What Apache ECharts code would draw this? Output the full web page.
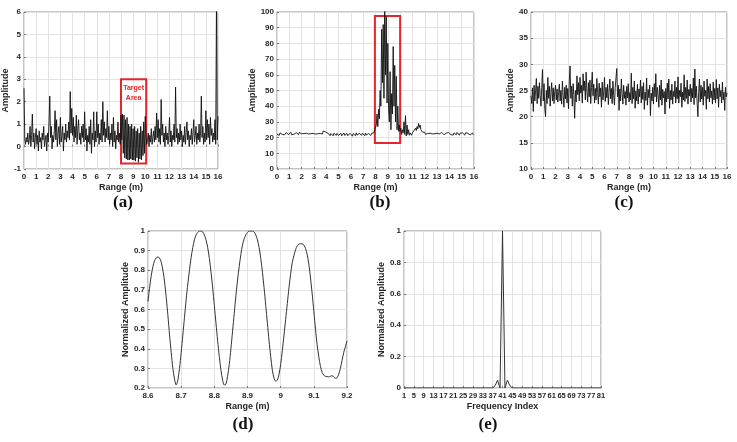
<!DOCTYPE html>
<html><head><meta charset="utf-8">
<script src="https://cdn.jsdelivr.net/npm/echarts@6/dist/echarts.min.js"></script>
<style>html,body{margin:0;padding:0;background:#fff}#c{width:737px;height:442px}</style>
</head><body><div id="c"></div>
<script>
// sampling step of panels (a)-(c), metres
const rangeStep = 0.0625;
// (a) amplitude, 16 samples per metre, 0..16 m
const ampA = [
 2.6,0.3,0.1,0.4,0.2,0.6,0.1,0.3,0.9,0.0,0.5,1.45,0.2,0.6,-0.1,0.4,
 0.8,0.1,0.5,-0.2,0.7,0.2,0.4,-0.1,0.6,0.3,0.9,0.0,0.3,0.5,-0.2,0.6,
 0.2,1.1,2.25,0.4,0.9,-0.1,0.5,0.2,0.7,1.6,0.3,1.2,0.0,0.6,0.9,0.1,
 1.3,0.2,0.5,0.9,-0.2,0.6,0.3,1.0,0.2,0.7,0.4,1.1,0.3,2.45,0.6,1.7,
 0.5,1.3,0.2,0.9,0.4,1.4,0.1,0.8,1.2,0.3,0.6,0.1,0.9,0.4,1.0,0.2,
 1.55,0.3,0.8,-0.2,0.5,0.2,0.9,0.1,1.2,-0.3,0.6,0.3,1.55,0.0,0.7,0.2,
 1.55,0.4,1.0,0.1,0.6,0.3,1.2,0.2,2.0,0.5,1.1,0.2,0.8,0.4,1.6,0.3,
 0.9,0.1,0.6,0.3,1.0,0.0,1.3,0.2,0.7,-0.1,0.5,0.3,1.1,0.2,0.6,0.1,
 1.4,0.3,1.45,-0.3,1.4,-0.5,1.2,-0.55,1.3,-0.6,1.0,-0.6,0.9,-0.55,1.0,-0.6,
 0.8,-0.6,0.9,-0.65,0.7,-0.5,0.8,-0.7,0.6,-0.55,0.9,-0.6,0.7,-0.4,1.1,-0.3,
 1.35,0.4,0.1,0.3,0.6,0.0,0.5,0.2,0.8,0.1,0.4,0.7,0.2,0.9,0.3,1.5,
 0.4,1.2,0.2,0.8,0.1,2.1,0.5,1.0,0.2,0.6,0.0,0.9,0.3,0.6,0.1,0.5,
 1.3,0.2,0.7,0.0,0.5,0.3,1.0,0.2,2.65,0.4,0.8,0.1,0.6,0.2,1.0,0.3,
 0.7,0.0,0.5,0.2,0.9,0.1,0.6,1.1,0.3,0.7,0.0,0.5,0.3,0.8,0.1,0.6,
 1.2,0.2,0.5,0.9,0.1,0.6,0.3,1.0,0.2,0.6,2.25,0.4,0.9,0.1,0.6,0.2,
 1.6,0.3,1.2,0.4,1.0,0.1,1.3,0.5,0.8,0.2,0.6,0.3,1.2,0.1,6.5,0.3,
 1.35
];
// (b) amplitude
const ampB = [
 22,23,22.5,21.5,23,22,23.5,22,22.5,23,21.8,22.7,23.2,22,22.8,21.9,
 23,22.2,23.4,21.8,22.6,23,22.1,22.9,21.7,23.1,22.4,22.8,21.9,23.3,22.2,22.7,
 22.4,23.1,21.8,22.6,23.2,22,22.8,21.6,23,22.3,22.9,21.8,22.5,23.1,22,22.7,
 21.9,22.8,22.2,23.4,21.7,22.5,23,22.1,22.6,21.8,23.2,22.3,24.2,23.3,25.2,23.6,
 24,22.5,22.9,21.7,22.3,21.2,22.6,21.9,22.4,21.1,22.8,21.6,22.2,21.4,22.7,21.8,
 21.3,22.5,21.7,22.8,21.1,22.2,21.6,22.9,21.4,22.1,21.8,22.6,21.2,22.4,21.9,22.7,
 21.5,22.3,20.9,22.6,21.8,22.1,21.2,23,21.6,22.4,21.1,22.7,21.9,22.2,21.4,22.8,
 21.7,22.5,21.2,22.9,21.6,22.3,21.1,22.6,21.8,22.2,21.4,22.7,21.9,22.4,23.1,22.5,
 24,28,35,27,38,32,50,40,89,55,92,45,104,60,97,42,
 80,38,30,62,25,48,35,78,40,66,30,59,25,40,24,28,
 24,26,22,25,23,30,22,34,21,28,22,25,21.5,23,22.2,21.5,
 23,22,24.5,23.5,26,24.5,27,25.5,29,26.5,28,25,26,23.5,24.2,22.8,
 23.4,22.1,22.9,21.8,22.6,23.2,22,22.8,21.7,23,22.3,22.9,21.9,22.5,23.1,22.2,
 22.8,21.6,23.1,22.3,22.7,21.9,23.3,22.1,22.6,21.8,23,22.4,22.9,21.7,22.5,23.2,
 22,22.8,21.9,23.1,22.4,21.6,23,22.2,22.7,21.8,23.3,22.1,22.6,21.5,22.9,22.3,
 21.8,23,22.2,22.7,21.6,23.1,22.4,21.9,22.8,22,23.2,21.7,22.6,22.1,22.9,21.8,
 22.4
];
// (c) amplitude
const ampC = [
 24,22.5,25.5,21,26,23,25,27.3,22.5,25.8,23.5,26.5,24,22,25.5,29,
 23,26.3,21.5,20,25,22.5,27.5,23.5,25.8,22,24.5,26.5,23,25.5,22.5,24.8,
 26,23.2,25.3,22.8,24.6,26.2,23,25,22.4,26.8,24,21.8,25.6,23.4,26,22.6,
 25.4,21.5,26.8,29.7,23.5,25.8,22,26.3,24,19.7,25,22.8,27.8,24.2,26.5,23,
 27.5,24.5,26,22.6,28.2,25,26.8,23.2,28.5,24.8,22.8,26.5,23.8,27,22.5,25.6,
 28.5,24,26.2,22.6,25.4,23.2,27.3,24.6,22.4,26.4,23.8,25.5,21.8,26.6,23.2,24.8,
 27.5,22.9,25.6,23.6,26.2,22.3,24.8,27.2,23.4,25.4,22.5,26.8,24,22.2,25.6,27.4,
 29.2,23.8,26,21.2,25.3,23,27.2,24.4,22.4,26,23.5,24.8,22.2,25.8,23.6,26.3,
 22.8,24.6,23.2,28.3,22.5,25.6,23.4,26.8,21.6,24.9,23,26.2,22.4,25.3,23.8,27,
 22.6,25.8,23.3,26.5,21.4,24.7,23.1,27.4,22.2,25.2,23.6,26,20.2,24.5,23,25.6,
 22.4,26.3,23.8,28.2,22.8,25.6,24.2,21.8,26,23.2,27,22.2,25.2,23.6,24.8,20.5,
 25.4,22.8,26.4,23.4,27.2,21.6,25,23.2,26.2,22.4,24.8,23.8,26.8,22.6,25.6,23.4,
 27.6,22.6,25,23.8,26.4,21.8,24.7,23.2,28,22.9,25.6,23.5,27,22.4,25.2,24,
 26.2,22.8,25.4,23.6,27.4,22.3,29.1,23.6,25.8,22.6,20,24.8,27.2,22.8,26,23.4,
 25.6,22.2,26.8,23.9,25,21.4,27.2,23.4,25.8,22.8,26.3,23.6,24.9,22.4,26.6,23.2,
 25.4,22.6,27.1,23.4,25.5,21.8,26.2,23.8,25,22.6,26.6,23.2,24.7,21.2,25.6,23.8,
 24.5
];
// (d) normalized amplitude, 8.6..9.2 m every 5 mm
const rangeD0 = 8.6, rangeDStep = 0.005;
const normD = [
 0.64,0.715,0.775,0.82,0.85,0.863,0.867,0.862,0.84,0.80,
 0.74,0.66,0.57,0.47,0.38,0.30,0.245,0.215,0.24,0.30,
 0.38,0.47,0.56,0.65,0.73,0.80,0.865,0.915,0.955,0.98,
 0.993,1.0,1.0,0.995,0.98,0.955,0.915,0.86,0.79,0.71,
 0.62,0.53,0.44,0.36,0.29,0.24,0.215,0.22,0.26,0.32,
 0.40,0.49,0.58,0.67,0.75,0.82,0.88,0.93,0.96,0.98,
 0.993,1.0,1.0,1.0,0.995,0.98,0.955,0.915,0.86,0.79,
 0.71,0.62,0.53,0.44,0.36,0.29,0.25,0.235,0.24,0.27,
 0.32,0.39,0.47,0.55,0.63,0.71,0.78,0.84,0.875,0.905,
 0.925,0.933,0.935,0.935,0.928,0.91,0.88,0.83,0.76,0.68,
 0.59,0.50,0.42,0.36,0.31,0.28,0.265,0.26,0.258,0.257,
 0.26,0.263,0.256,0.25,0.252,0.27,0.30,0.34,0.38,0.41,
 0.44
];
// (e) normalized amplitude per frequency index 1..81
const normE = [
 0,0,0,0,0,0,0,0,0,0,0,0,0,0,0,0,0,0,0,0,0,0,0,0,0,0,0,0,0,0,0,0,0,0,0,0,
 0,0.015,0.05,0,1,0,0.05,0.015,0,
 0,0,0,0,0,0,0,0,0,0,0,0,0,0,0,0,0,0,0,0,0,0,0,0,0,0,0,0,0,0,0,0,0,0,0,0
];
const panelLabels = ['(a)','(b)','(c)','(d)','(e)'];
const targetLabel = 'Target\nArea';

const FONT = 'Liberation Sans';
const grids = [
  {left:23, top:12, width:195, height:157},
  {left:277, top:12, width:197, height:157},
  {left:531, top:12, width:196, height:157},
  {left:148, top:231, width:199, height:157},
  {left:404, top:231, width:197, height:157}
].map(g => Object.assign(g, {show:true, borderColor:'#8a8a8a', borderWidth:1, backgroundColor:'#fff'}));

function xAx(i, min, max, interval, name, fs, gap) {
  return {
    gridIndex:i, type:'value', min, max, interval,
    name, nameLocation:'middle', nameGap:gap,
    nameTextStyle:{fontFamily:FONT, fontWeight:'bold', fontSize:9, color:'#262626'},
    axisLine:{show:false}, axisTick:{show:true, inside:true, length:2, lineStyle:{color:'#777'}},
    axisLabel:{fontFamily:FONT, fontWeight:'bold', fontSize:fs, color:'#262626', margin:4, showMinLabel:true, showMaxLabel:true},
    splitLine:{show:true, lineStyle:{color:'#e3e3e3', width:1}}
  };
}
function yAx(i, min, max, interval, name, gap) {
  return {
    gridIndex:i, type:'value', min, max, interval,
    name, nameLocation:'middle', nameGap:gap,
    nameTextStyle:{fontFamily:FONT, fontWeight:'bold', fontSize:9, color:'#262626'},
    axisLine:{show:false}, axisTick:{show:true, inside:true, length:2, lineStyle:{color:'#777'}},
    axisLabel:{fontFamily:FONT, fontWeight:'bold', fontSize:8, color:'#262626', margin:3, showMinLabel:true, showMaxLabel:true},
    splitLine:{show:true, lineStyle:{color:'#e3e3e3', width:1}}
  };
}

const seriesA = ampA.map((v,i)=>[i*rangeStep, v]);
const seriesB = ampB.map((v,i)=>[i*rangeStep, v]);
const seriesC = ampC.map((v,i)=>[i*rangeStep, v]);
const seriesD = normD.map((v,i)=>[+(rangeD0 + i*rangeDStep).toFixed(3), v]);
const seriesE = normE.map((v,i)=>[i+1, v]);

const lineBase = {type:'line', symbol:'none', animation:false, clip:true, lineStyle:{color:'#111', width:0.9}};

const labelPos = [[123,203],[380,203],[624,203],[243,425],[488,425]];

const option = {
  animation:false,
  grid: grids,
  xAxis: [
    xAx(0,0,16,1,'Range (m)',8,14),
    xAx(1,0,16,1,'Range (m)',8,14),
    xAx(2,0,16,1,'Range (m)',8,14),
    xAx(3,8.6,9.2,0.1,'Range (m)',8,14),
    xAx(4,1,81,4,'Frequency Index',7.5,14)
  ],
  yAxis: [
    yAx(0,-1,6,1,'Amplitude',9),
    yAx(1,0,100,10,'Amplitude',15),
    yAx(2,10,40,5,'Amplitude',12),
    yAx(3,0.2,1,0.1,'Normalized Amplitude',12),
    yAx(4,0,1,0.2,'Normalized Amplitude',14)
  ],
  series: [
    Object.assign({}, lineBase, {xAxisIndex:0, yAxisIndex:0, data:seriesA,
      markArea:{silent:true, itemStyle:{color:'rgba(0,0,0,0)', borderColor:'#e3262e', borderWidth:2},
        label:{show:true, position:'insideTop', distance:5, formatter:targetLabel, color:'#e3262e', fontFamily:FONT, fontWeight:'bold', fontSize:7, lineHeight:10},
        data:[[{coord:[8.0,3.0]},{coord:[10.08,-0.75]}]]}}),
    Object.assign({}, lineBase, {xAxisIndex:1, yAxisIndex:1, data:seriesB,
      markArea:{silent:true, itemStyle:{color:'rgba(0,0,0,0)', borderColor:'#e3262e', borderWidth:2},
        data:[[{coord:[7.95,97.5]},{coord:[10.0,16.5]}]]}}),
    Object.assign({}, lineBase, {xAxisIndex:2, yAxisIndex:2, data:seriesC}),
    Object.assign({}, lineBase, {xAxisIndex:3, yAxisIndex:3, data:seriesD, smooth:0.3, lineStyle:{color:'#333', width:1}}),
    Object.assign({}, lineBase, {xAxisIndex:4, yAxisIndex:4, data:seriesE, lineStyle:{color:'#333', width:1}})
  ],
  graphic: panelLabels.map((t,i)=>({type:'text', x:labelPos[i][0], y:labelPos[i][1],
    style:{text:t, font:'bold 17px "Liberation Serif"', fill:'#111', textAlign:'center', textVerticalAlign:'middle'}}))
};
const chart = echarts.init(document.getElementById('c'), null, {renderer:'canvas'});
chart.setOption(option);
</script></body></html>
